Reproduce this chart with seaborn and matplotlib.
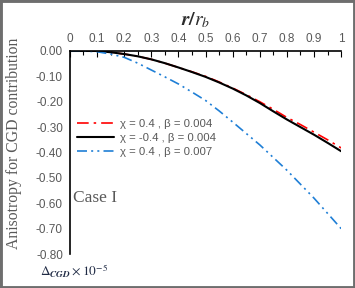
import numpy as np
import pandas as pd
import matplotlib
matplotlib.use("Agg")
import matplotlib.pyplot as plt
import seaborn as sns
from matplotlib.patches import Rectangle
from matplotlib.ticker import MultipleLocator

# r / r_b samples and the three anisotropy curves
r = [0.00, 0.05, 0.10, 0.15, 0.20, 0.25, 0.30, 0.35, 0.40, 0.45, 0.50,
     0.55, 0.60, 0.65, 0.70, 0.75, 0.80, 0.85, 0.90, 0.95, 1.00]
red_vals = [0.000, 0.000, 0.000, -0.005, -0.012, -0.021, -0.033, -0.048, -0.065, -0.082, -0.100,
            -0.122, -0.146, -0.172, -0.200, -0.230, -0.262, -0.290, -0.320, -0.350, -0.382]
black_vals = [0.000, 0.000, 0.000, -0.005, -0.012, -0.021, -0.033, -0.048, -0.065, -0.083, -0.102,
              -0.124, -0.148, -0.175, -0.205, -0.238, -0.270, -0.300, -0.330, -0.362, -0.395]
blue_vals = [0.000, 0.000, -0.003, -0.012, -0.025, -0.048, -0.075, -0.102, -0.130, -0.162, -0.195,
             -0.236, -0.280, -0.325, -0.370, -0.420, -0.470, -0.525, -0.580, -0.640, -0.700]
labels = ["χ = 0.4 , β = 0.004", "χ = -0.4 , β = 0.004", "χ = 0.4 , β = 0.007"]

x_ticks = [0, 0.1, 0.2, 0.3, 0.4, 0.5, 0.6, 0.7, 0.8, 0.9, 1]
x_tick_labels = ["0", "0.1", "0.2", "0.3", "0.4", "0.5", "0.6", "0.7", "0.8", "0.9", "1"]
y_ticks = [0.0, -0.1, -0.2, -0.3, -0.4, -0.5, -0.6, -0.7, -0.8]
y_tick_labels = ["0.00", "-0.10", "-0.20", "-0.30", "-0.40", "-0.50", "-0.60", "-0.70", "-0.80"]

sns.set_style("white")
plt.rcParams["font.family"] = ["Liberation Sans", "DejaVu Sans"]
plt.rcParams["mathtext.fontset"] = "stix"

grey = "#595959"
fig = plt.figure(figsize=(3.55, 2.88), dpi=100)
ax = fig.add_axes([0.197, 0.118, 0.764, 0.705])

sns.lineplot(x=r, y=red_vals, ax=ax, color="#ff0000", lw=1.2,
             linestyle=(0, (7, 3, 1.5, 3)), label=labels[0])
sns.lineplot(x=r, y=black_vals, ax=ax, color="black", lw=1.5, label=labels[1])
sns.lineplot(x=r, y=blue_vals, ax=ax, color="#1f7fd6", lw=1.2,
             linestyle=(0, (6, 2.5, 1.2, 2.5, 1.2, 2.5)), label=labels[2])

ax.set_xlim(0, 1)
ax.set_ylim(-0.8, 0)
ax.xaxis.tick_top()
ax.set_xticks(x_ticks)
ax.set_xticklabels(x_tick_labels)
ax.set_yticks(y_ticks)
ax.set_yticklabels(y_tick_labels)
ax.xaxis.set_minor_locator(MultipleLocator(0.05))
ax.yaxis.set_minor_locator(MultipleLocator(0.05))
ax.tick_params(axis="x", which="major", direction="in", length=4, width=0.8,
               colors="black", labelcolor=grey, labelsize=8.5, pad=4, top=True, bottom=False)
ax.tick_params(axis="x", which="minor", direction="in", length=3, width=0.8,
               colors="black", top=True, bottom=False)
ax.tick_params(axis="y", which="major", direction="inout", length=6, width=0.8,
               colors="black", labelcolor=grey, labelsize=8.5, pad=2)
ax.tick_params(axis="y", which="minor", direction="in", length=3, width=0.8, colors="black")

for side in ["right", "bottom"]:
    ax.spines[side].set_visible(False)
for side in ["left", "top"]:
    ax.spines[side].set_color("black")
    ax.spines[side].set_linewidth(1.2)

ax.set_xlabel("")
ax.set_ylabel("")

leg = ax.legend(loc="upper left", bbox_to_anchor=(0.0, 0.70), frameon=False,
                fontsize=8.2, handlelength=3.3, handletextpad=0.5, labelspacing=0.35,
                borderaxespad=0.2)
for t in leg.get_texts():
    t.set_color(grey)

fig.text(0.552, 0.93, r"$\boldsymbol{r/r_b}$", ha="center", va="center", fontsize=14,
         color="#2b2b2b")
fig.text(0.04, 0.503, "Anisotropy for CGD contribution", rotation=90, ha="center",
         va="center", fontsize=11.3, color=grey, family=["Liberation Serif"])
ax.text(0.01, 0.276, "Case I", transform=ax.transAxes, ha="left", va="center",
        fontsize=12.5, color=grey, family=["Liberation Serif"])
fig.text(0.112, 0.058, r"$\Delta_{\boldsymbol{CGD}}\times10^{-5}$", ha="left", va="center",
         fontsize=9.5, color="#1f2a44")

fig.patches.append(Rectangle((0, 0), 1, 1, transform=fig.transFigure, fill=False,
                             edgecolor="#6e6e6e", lw=3.5))

fig.savefig("out.png", dpi=100)
